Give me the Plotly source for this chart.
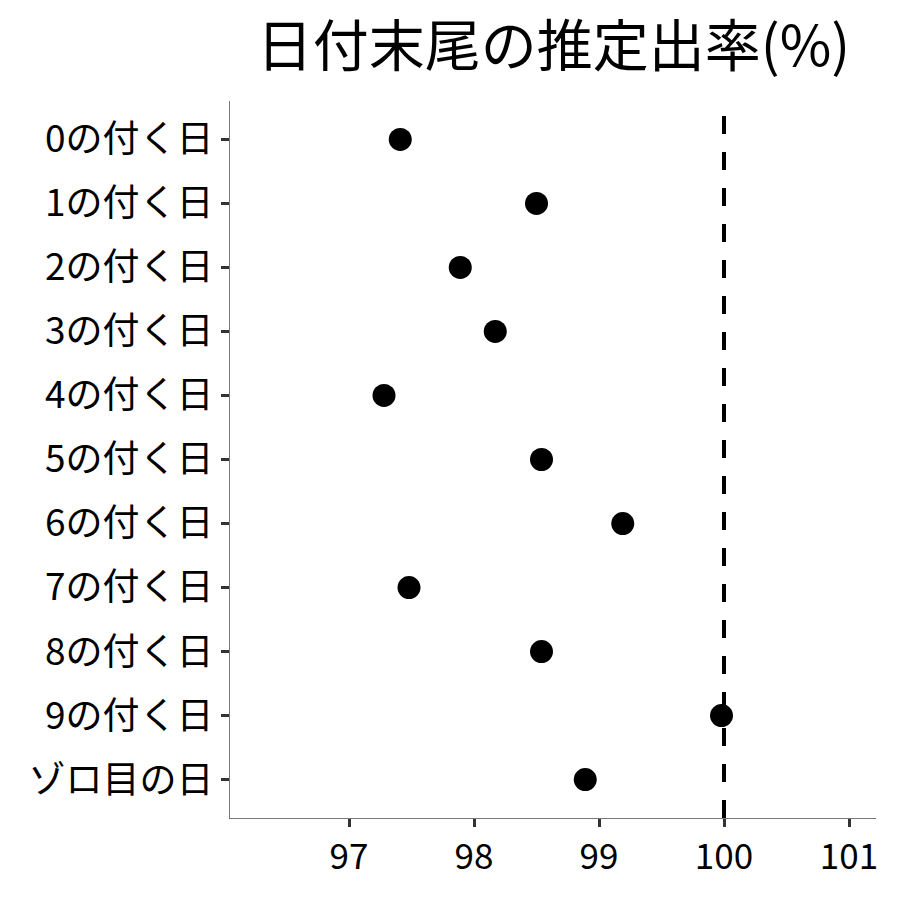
import plotly.graph_objects as go

categories = ["0の付く日", "1の付く日", "2の付く日", "3の付く日", "4の付く日",
              "5の付く日", "6の付く日", "7の付く日", "8の付く日", "9の付く日", "ゾロ目の日"]
rates = [97.41, 98.50, 97.89, 98.17, 97.28, 98.54, 99.19, 97.48, 98.54, 99.98, 98.89]
ref_value = 100
x_ticks = [97, 98, 99, 100, 101]
title_text = "日付末尾の推定出率(%)"

FONT = "Noto Sans CJK JP"

fig = go.Figure()
fig.add_trace(go.Scatter(
    x=rates, y=categories, mode="markers",
    marker=dict(color="black", size=23, line=dict(width=0)),
    showlegend=False, hoverinfo="x+y",
))
fig.add_shape(type="line", xref="x", yref="paper", x0=ref_value, x1=ref_value,
              y0=0, y1=1, line=dict(color="black", width=4, dash="18px,18px"),
              layer="below")

fig.update_layout(
    width=900, height=900,
    paper_bgcolor="white", plot_bgcolor="white",
    margin=dict(l=222, r=32, t=93, b=90),
    font=dict(family=FONT, color="black"),
    title=dict(text=title_text, font=dict(family=FONT, size=56, color="black"),
               x=545.5 / 900, xanchor="center", y=1 - 38 / 900, yanchor="middle"),
)
fig.update_xaxes(
    range=[96.048, 101.216], tickvals=x_ticks, ticktext=[str(v) for v in x_ticks],
    showgrid=False, zeroline=False, showline=True, linecolor="#777777", linewidth=1.3,
    ticks="outside", ticklen=8, tickwidth=2.5, tickcolor="#333333",
    tickfont=dict(family=FONT, size=35, color="black"),
)
fig.update_yaxes(
    type="category", categoryorder="array", categoryarray=categories,
    range=[10.6, -0.6],
    showgrid=False, zeroline=False, showline=True, linecolor="#777777", linewidth=1.3,
    ticks="outside", ticklen=8, tickwidth=2.5, tickcolor="#333333",
    tickfont=dict(family=FONT, size=37, color="black"),
)

fig.write_html("out.html")
